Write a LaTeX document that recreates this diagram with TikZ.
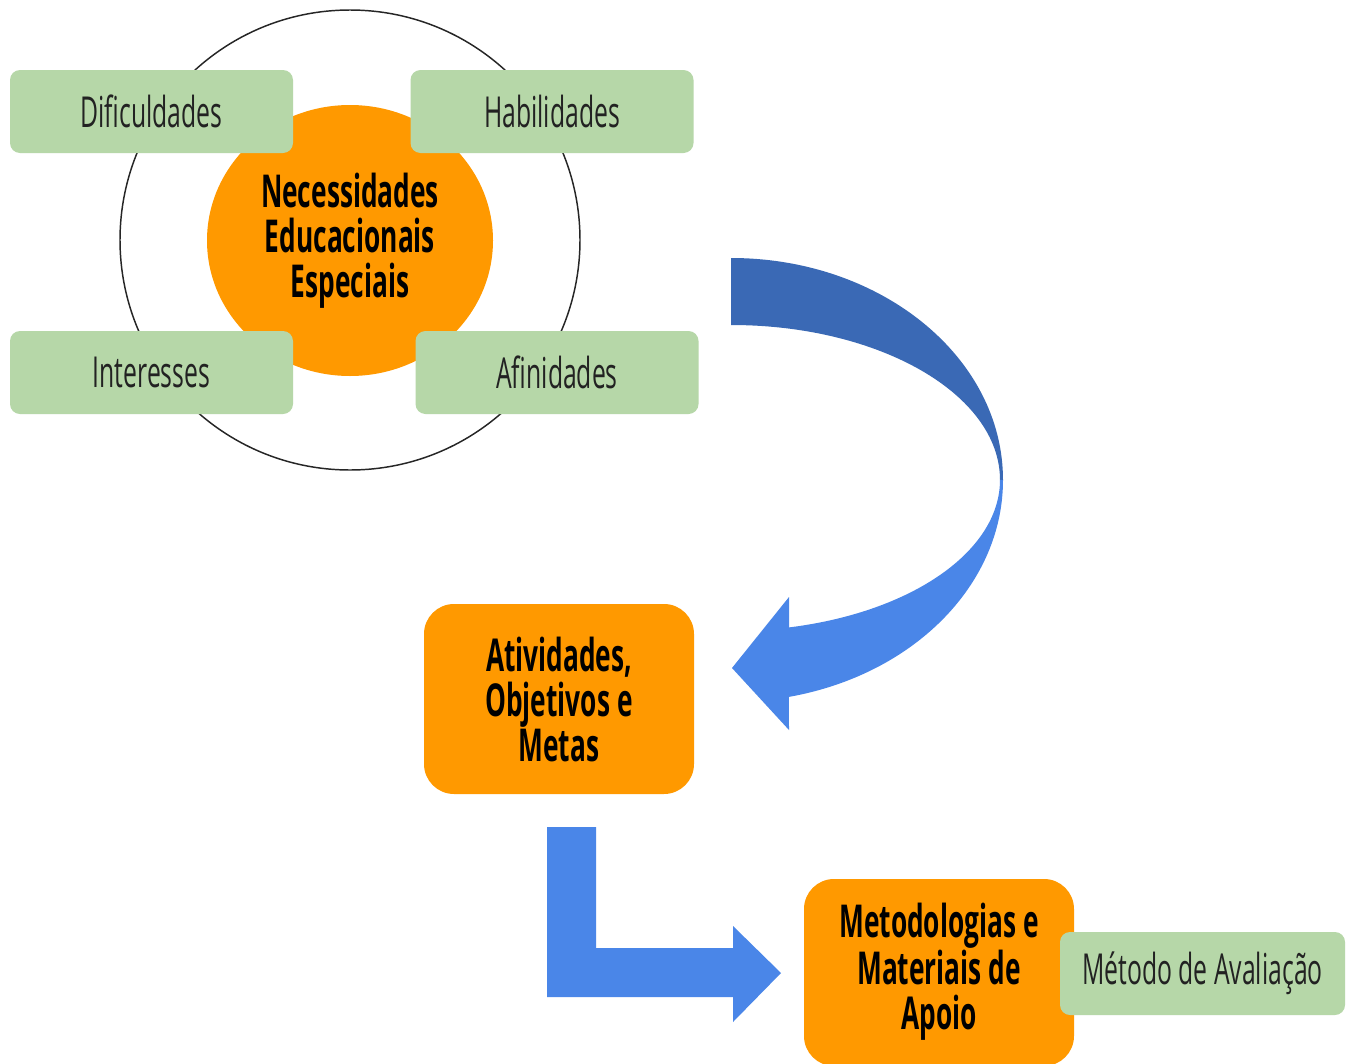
\documentclass[tikz,border=0pt]{standalone}
\usepackage{fontspec}
\usetikzlibrary{shapes.geometric}
\setmainfont{Open Sans}[FakeStretch=0.58]
\definecolor{greenbox}{HTML}{B6D7A8}
\definecolor{orangebox}{HTML}{FF9900}
\definecolor{bluedark}{HTML}{3A69B5}
\definecolor{bluelight}{HTML}{4A86E8}
\definecolor{textgrey}{HTML}{222222}
\tikzset{
  greenlabel/.style={fill=greenbox, rounded corners=7.5pt, minimum width=212.25pt, minimum height=62.25pt, inner sep=0pt, text=textgrey, font=\fontsize{32}{34}\selectfont},
  orangelabel/.style={fill=orangebox, rounded corners=22.5pt, minimum width=202.5pt, inner sep=0pt, align=center, font=\fontsize{34}{33.75}\selectfont\bfseries}
}
\begin{document}
\begin{tikzpicture}[x=0.75pt,y=-0.75pt]
\useasboundingbox (0,0) rectangle (1354,1064);
\clip (0,0) rectangle (1354,1064);
\fill[white] (0,0) rectangle (1354,1064);

% outer ring
\draw[line width=1.1pt, black!85] (350,240) circle[radius=172.5pt];
% central circle
\node[ellipse, fill=orangebox, minimum width=214.5pt, minimum height=203.25pt, inner sep=0pt, align=center, font=\fontsize{34}{33.75}\selectfont\bfseries] (nee) at (350,240.5) {Necessidades\\Educacionais\\Especiais};

% green boxes
\node[greenlabel] (dif) at (151.5,111.5) {Dificuldades};
\node[greenlabel] (hab) at (552,111.5) {Habilidades};
\node[greenlabel] (int) at (151.5,372.5) {Interesses};
\node[greenlabel] (afi) at (557,372.5) {Afinidades};

% curved arrow (upper, darker half)
\fill[bluedark] (731,258) arc[start angle=90, end angle=0, x radius=204pt, y radius=166.5pt]
  -- (1000,480) arc[start angle=0, end angle=90, x radius=201.75pt, y radius=116.25pt] -- cycle;
% curved arrow (lower, lighter half with head)
\fill[bluelight] (1003,480) arc[start angle=0, end angle=-77.7, x radius=204pt, y radius=166.5pt]
  -- (789,730) -- (732,668) -- (789,597) -- (789.2,627.4)
  arc[start angle=-77.5, end angle=0, x radius=201.75pt, y radius=113.25pt] -- cycle;

% activities box
\node[orangelabel, minimum height=142.5pt] (ati) at (559,699) {Atividades,\\Objetivos e\\Metas};

% bent arrow
\fill[bluelight] (547,827) -- (596,827) -- (596,948) -- (733,948) -- (733,926) -- (781,973)
  -- (733,1022) -- (733,997) -- (547,997) -- cycle;

% methodology box
\node[orangelabel, minimum height=140.25pt] (met) at (939,972.5) {};
\node[font=\fontsize{34}{33.75}\selectfont\bfseries, align=center] (mettext) at (939,972) {Metodologias e\\Materiais de\\Apoio};

% evaluation box
\node[greenlabel, minimum width=213.75pt] (ava) at (1202.5,973.5) {Método de Avaliação};
\end{tikzpicture}
\end{document}
